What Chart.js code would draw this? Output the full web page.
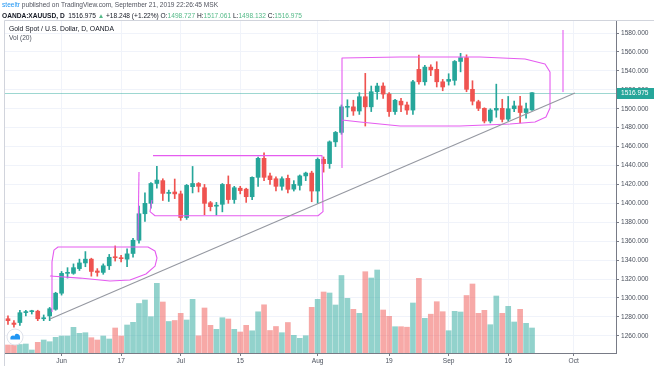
<!DOCTYPE html>
<html>
<head>
<meta charset="utf-8">
<script src="https://cdn.jsdelivr.net/npm/chart.js@4.4.0/dist/chart.umd.min.js"></script>
<style>
  html, body { margin: 0; padding: 0; background: #fff; }
  #wrap { position: relative; width: 654px; height: 366px; overflow: hidden; font-family: 'Liberation Sans', Arial, sans-serif; }
  canvas { position: absolute; left: 0; top: 0; }
  .txt { position: absolute; white-space: nowrap; font-size: 6.6px; color: #4c525e; line-height: 1; }
  .hd1 { left: 2px; top: 2px; color: #50535e; }
  .hd1 .user { color: #2196f3; }
  .hd2 { left: 2px; top: 13px; color: #131722; }
  .hd2 b { font-weight: bold; }
  .hd2 .g { color: #53b987; }
  .lg1 { left: 9px; top: 26px; font-size: 6.8px; color: #131722; }
  .lg2 { left: 9px; top: 35px; font-size: 6.6px; color: #4c525e; }
</style>
</head>
<body>
<div id="wrap">
  <canvas id="c" width="654" height="366"></canvas>
  <div class="txt hd1"><span class="user">steeltr</span> published on TradingView.com, September 21, 2019 22:26:45 MSK</div>
  <div class="txt hd2"><b>OANDA:XAUUSD, D</b>&nbsp; 1516.975 <span class="g">▲</span> +18.248 (+1.22%) O:<span class="g">1498.727</span> H:<span class="g">1517.061</span> L:<span class="g">1498.132</span> C:<span class="g">1516.975</span></div>
  <div class="txt lg1">Gold Spot / U.S. Dollar, D, OANDA</div>
  <div class="txt lg2">Vol (20)</div>
</div>
<script>
// daily bars, 21 May 2019 .. 20 Sep 2019 (weekdays)
const firstDay = '2019-05-21';
const slotCount = 103; // includes empty days to the right of the last bar

const open = [
  1278, 1273.5, 1274, 1284.5, 1285.5, 1286, 1278, 1281, 1288,
  1305, 1326, 1326, 1331, 1337, 1341, 1328.5, 1327, 1334, 1343.5,
  1342.5, 1341, 1347, 1361, 1389, 1400, 1421, 1424, 1410.5, 1412,
  1410, 1385, 1417.6, 1421, 1416.5, 1400.6, 1397, 1399, 1420, 1404,
  1416, 1415, 1407, 1427.5, 1447.6, 1429, 1426, 1418, 1426.4, 1415,
  1419, 1429, 1432, 1413, 1446.5, 1442, 1465, 1475, 1501.5, 1502,
  1497.6, 1512.7, 1502, 1518, 1524, 1515.5, 1497, 1508, 1504, 1498.6,
  1541.6, 1528.5, 1544, 1541.6, 1528.5, 1529, 1530, 1550, 1554, 1520.5,
  1507.4, 1500.4, 1487, 1498.6, 1500.4, 1489, 1500, 1503, 1496, 1498.727
];
const high = [
  1281, 1276, 1287, 1287, 1287, 1287, 1282, 1290, 1306,
  1328, 1332, 1336, 1341, 1349, 1342, 1331, 1336, 1346, 1355,
  1345, 1352, 1363, 1397, 1411, 1422, 1439, 1426, 1414, 1425.7,
  1413, 1420, 1439, 1422, 1420, 1402, 1401, 1421, 1429, 1418,
  1418, 1416, 1428, 1449, 1453.5, 1432, 1428, 1428, 1430, 1424,
  1430, 1433, 1434, 1448, 1449, 1466, 1476, 1504, 1509.5, 1509,
  1517, 1537.4, 1524, 1527, 1527.5, 1517, 1510, 1511, 1507, 1530,
  1556.8, 1546, 1546.5, 1549.7, 1531, 1537, 1551, 1558.6, 1557, 1529.6,
  1509, 1501, 1500, 1526, 1510, 1513, 1508, 1513, 1506, 1517.061
];
const low = [
  1272, 1269, 1271, 1281, 1283, 1276, 1276, 1276, 1287,
  1303, 1321, 1325, 1329, 1333, 1323, 1323, 1325, 1330, 1339,
  1338, 1333, 1343, 1358, 1381, 1395, 1416, 1403, 1402, 1405,
  1382, 1383, 1411, 1412, 1388, 1392, 1387.6, 1391, 1400, 1400,
  1410, 1401, 1404, 1418, 1424, 1420, 1413, 1414, 1411, 1413,
  1414, 1424, 1401.7, 1400, 1433, 1437, 1460, 1473, 1491.5, 1493,
  1494, 1481.7, 1497, 1510, 1511, 1492, 1494, 1497, 1494, 1494,
  1526, 1525, 1535, 1523, 1519, 1525, 1525, 1539, 1518, 1504,
  1498, 1485, 1485, 1491, 1486, 1487, 1497, 1485, 1490, 1498.132
];
const close = [
  1276, 1272, 1284.4, 1285, 1286, 1278, 1279, 1288.6, 1305,
  1326, 1327, 1332, 1337, 1341, 1328, 1327, 1334, 1343, 1342.5,
  1341.5, 1346.6, 1361, 1389, 1400, 1421, 1424.6, 1410.5, 1411, 1410,
  1385, 1419, 1421, 1418, 1400, 1396.5, 1398, 1420, 1404, 1416.5,
  1413.5, 1407, 1427.5, 1447.6, 1427.5, 1425, 1418, 1426, 1414.8, 1420,
  1429, 1432, 1413, 1446.5, 1442, 1465, 1475, 1502, 1502.3, 1497.6,
  1512.7, 1502, 1518, 1524, 1515.5, 1497, 1509, 1504, 1498.6, 1528.5,
  1528.5, 1544, 1541, 1528.5, 1523, 1531, 1550, 1554, 1520.5, 1508,
  1500.4, 1487, 1498.6, 1500.4, 1488.8, 1500, 1503, 1496, 1500, 1516.975
];
// volume, relative units (no scale shown on the chart)
const volume = [
  8, 8, 8.5, 9, 3, 10.7, 13, 11.3, 15.7,
  17, 17, 25.7, 19.7, 20.3, 15.3, 13, 17, 14, 25,
  17, 28, 30.7, 49.5, 53, 36.3, 69.7, 51, 31.5, 32.5,
  39.7, 33, 53.7, 17.2, 45, 27.7, 23.7, 35.3, 34, 23.7,
  21, 27.7, 22.2, 41.2, 48.2, 22.5, 26.5, 20.3, 30.5, 17.7,
  14.7, 17.3, 45.7, 53.7, 61, 60, 48, 77.5, 54.7, 43.7,
  39.7, 81.3, 75, 83, 43, 36.7, 26.3, 26.3, 25.8, 50,
  74.7, 34.7, 38.8, 51.3, 41.3, 22.3, 41.7, 41, 57.5, 69,
  39.7, 42.7, 28.3, 57, 39.7, 46.7, 31, 43.7, 29.7, 25
];

const xTickDates = ['2019-06-03', '2019-06-17', '2019-07-01', '2019-07-15', '2019-08-01', '2019-08-19', '2019-09-02', '2019-09-16', '2019-10-01'];
const xTickLabels = ['Jun', '17', 'Jul', '15', 'Aug', '19', 'Sep', '16', 'Oct'];
const priceTicks = [1260, 1280, 1300, 1320, 1340, 1360, 1380, 1400, 1420, 1440, 1460, 1480, 1500, 1520, 1540, 1560, 1580];

// hand drawn marks on the chart, as [bar index, price]
const drawings = [
  { color: '#e55cf0', pts: [[7.39, 1285.2], [7.39, 1338.1], [7.72, 1350.6], [8.4, 1353.8], [23.51, 1353.8], [24.69, 1349.6], [25.02, 1342.2], [24.69, 1333.7], [23.17, 1325.3], [20.49, 1318.9], [17.13, 1317.9], [12.09, 1321], [7.05, 1323.2]] },
  { color: '#e55cf0', pts: [[24.18, 1403.5], [23.85, 1391.2], [24.69, 1386.9], [52.06, 1386.9], [52.9, 1391.2], [52.73, 1450.4], [24.35, 1450.4]] },
  { color: '#e55cf0', pts: [[22.0, 1433.1], [21.83, 1361.2]] },
  { color: '#e55cf0', pts: [[56.09, 1437.3], [56.09, 1553.6], [65.83, 1554.7], [79.26, 1554.7], [86.82, 1552.6], [90.18, 1547.3], [91.02, 1538.8], [91.02, 1500.8], [90.34, 1491.3], [88.5, 1486], [84.3, 1483.9], [75.9, 1481.8], [65.83, 1481.8], [59.11, 1486], [56.09, 1488.1]] },
  { color: '#e55cf0', pts: [[93.2, 1583.2], [93.2, 1517.7]] },
  { color: '#9598a1', pts: [[7.05, 1277.7], [95.21, 1516.6]] }
];

function weekdays(start, n) {
  const out = [];
  const d = new Date(start + 'T00:00:00Z');
  while (out.length < n) {
    const w = d.getUTCDay();
    if (w !== 0 && w !== 6) out.push(d.toISOString().slice(0, 10));
    d.setUTCDate(d.getUTCDate() + 1);
  }
  return out;
}
const dates = weekdays(firstDay, slotCount);

const UP = '#26a69a', DOWN = '#ef5350';
const isUp = close.map((c, i) => c >= open[i]);
const last = close.length - 1;

const tvDecor = {
  id: 'tvDecor',
  beforeDraw(chart) {
    const ctx = chart.ctx;
    ctx.save();
    ctx.fillStyle = '#fff';
    ctx.fillRect(0, 0, chart.width, chart.height);
    ctx.strokeStyle = '#d1d4dc';
    ctx.lineWidth = 1;
    ctx.beginPath();
    ctx.moveTo(4.5, chart.height);
    ctx.lineTo(4.5, 20.5);
    ctx.lineTo(chart.width, 20.5);
    ctx.stroke();
    ctx.restore();
  },
  beforeDatasetsDraw(chart) {
    const { ctx, chartArea: a, scales } = chart;
    const y = Math.round(scales.y.getPixelForValue(close[last])) + 0.5;
    ctx.save();
    ctx.strokeStyle = 'rgba(38,166,154,0.45)';
    ctx.lineWidth = 1;
    ctx.beginPath();
    ctx.moveTo(a.left, y);
    ctx.lineTo(a.right, y);
    ctx.stroke();
    ctx.restore();
  },
  afterDatasetsDraw(chart) {
    const { ctx, chartArea: a, scales } = chart;
    ctx.save();
    ctx.beginPath();
    ctx.rect(a.left, a.top, a.right - a.left, a.bottom - a.top);
    ctx.clip();
    ctx.lineWidth = 1.1;
    ctx.lineJoin = 'round';
    drawings.forEach(d => {
      ctx.strokeStyle = d.color;
      ctx.beginPath();
      d.pts.forEach(([i, p], k) => {
        const x = scales.x.getPixelForValue(i), y = scales.y.getPixelForValue(p);
        if (k === 0) ctx.moveTo(x, y); else ctx.lineTo(x, y);
      });
      ctx.stroke();
    });
    ctx.restore();
  },
  afterDraw(chart) {
    const { ctx, chartArea: a, scales } = chart;
    const y = scales.y.getPixelForValue(close[last]);
    ctx.save();
    ctx.fillStyle = UP;
    ctx.fillRect(a.right + 1, Math.round(y) - 5, chart.width - a.right - 1, 11);
    ctx.fillStyle = '#fff';
    ctx.font = "6.6px 'Liberation Sans', Arial, sans-serif";
    ctx.textBaseline = 'middle';
    ctx.fillText(close[last].toFixed(3), a.right + 5, Math.round(y) + 0.5);
    // small logo bottom-left
    ctx.beginPath();
    ctx.arc(15, 337, 8, 0, Math.PI * 2);
    ctx.fillStyle = '#fff';
    ctx.fill();
    ctx.strokeStyle = '#e0e3eb';
    ctx.stroke();
    ctx.fillStyle = '#2196f3';
    ctx.beginPath();
    ctx.arc(13, 338, 2.6, Math.PI, 0);
    ctx.arc(17, 337, 3, Math.PI * 1.2, 0);
    ctx.lineTo(20, 339.5);
    ctx.lineTo(10.4, 339.5);
    ctx.closePath();
    ctx.fill();
    ctx.restore();
  }
};

new Chart(document.getElementById('c'), {
  type: 'bar',
  data: {
    datasets: [
      {
        label: 'Vol',
        data: volume.map((v, i) => ({ x: i, y: v })),
        yAxisID: 'vol',
        backgroundColor: isUp.map(u => u ? 'rgba(38,166,154,0.5)' : 'rgba(239,83,80,0.5)'),
        barThickness: 5,
        grouped: false,
        order: 3
      },
      {
        label: 'wick',
        data: low.map((l, i) => ({ x: i, y: [l, high[i]] })),
        yAxisID: 'y',
        backgroundColor: isUp.map(u => u ? UP : DOWN),
        barThickness: 1,
        grouped: false,
        order: 2
      },
      {
        label: 'body',
        data: open.map((o, i) => ({ x: i, y: [o, close[i]] })),
        yAxisID: 'y',
        backgroundColor: isUp.map(u => u ? UP : DOWN),
        barThickness: 4,
        minBarLength: 1,
        grouped: false,
        order: 1
      }
    ]
  },
  options: {
    responsive: false,
    animation: false,
    devicePixelRatio: 1,
    layout: { padding: { top: 21, left: 5, right: 0, bottom: 0 } },
    plugins: { legend: { display: false }, tooltip: { enabled: false } },
    scales: {
      x: {
        type: 'linear',
        offset: false,
        min: -0.5,
        max: 102.1,
        afterBuildTicks: s => { s.ticks = xTickDates.map(d => ({ value: dates.indexOf(d) })); },
        afterFit: s => { s.height = 13; },
        ticks: {
          autoSkip: false,
          maxRotation: 0,
          padding: 1,
          color: '#4c525e',
          font: { family: "'Liberation Sans', Arial, sans-serif", size: 6.6 },
          callback: v => xTickLabels[xTickDates.indexOf(dates[v])]
        },
        grid: { offset: false, color: '#f0f3fa', tickColor: '#787b86', tickLength: 3 },
        border: { color: '#787b86' }
      },
      y: {
        position: 'right',
        min: 1241.8,
        max: 1592.75,
        afterBuildTicks: s => { s.ticks = priceTicks.map(v => ({ value: v })); },
        afterFit: s => { s.width = 38; },
        ticks: {
          padding: 2,
          color: '#4c525e',
          font: { family: "'Liberation Sans', Arial, sans-serif", size: 6.6 },
          callback: v => v.toFixed(3)
        },
        grid: { color: '#f0f3fa', tickColor: '#787b86', tickLength: 3 },
        border: { color: '#787b86' }
      },
      vol: { display: false, min: 0, max: 332 }
    }
  },
  plugins: [tvDecor]
});
</script>
</body>
</html>
